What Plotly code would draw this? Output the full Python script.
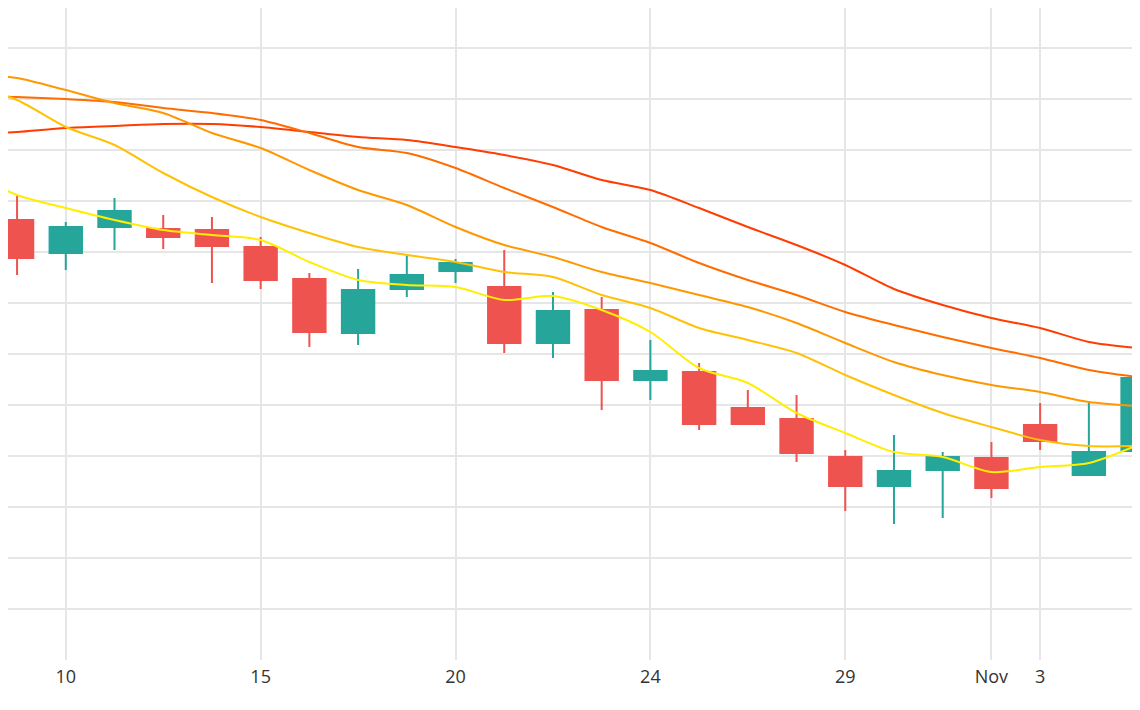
import plotly.graph_objects as go

# candle index positions (one per session), -1 is the session before the visible window
idx = list(range(24))
ma_idx = list(range(-1, 24))

opens = [440, 407, 433, 431, 430, 413, 381, 327, 371, 389, 373, 317,
         350, 280, 288, 252, 241, 203, 174, 190, 202, 235, 185, 209]
highs = [465, 438, 462, 445, 443, 423, 387, 391, 404, 401, 410, 368,
         363, 320, 297, 270, 265, 210, 225, 208, 218, 257, 259, 290]
lows = [385, 390, 410, 411, 377, 371, 313, 315, 363, 377, 307, 302,
        250, 260, 230, 236, 198, 149, 136, 142, 162, 210, 185, 197]
closes = [402, 433, 449, 423, 414, 380, 328, 370, 385, 397, 317, 349,
          280, 289, 236, 236, 207, 174, 189, 203, 172, 219, 208, 282]

# moving averages
ma_fast = [490, 465, 452, 440, 430, 425, 420, 398, 380, 375, 373, 360, 364,
           350, 328, 292, 277, 247, 227, 208, 203, 188, 193, 197, 215]
ma_10 = [575, 560, 533, 515, 487, 463, 443, 427, 413, 405, 398, 388, 383,
         365, 352, 332, 320, 307, 285, 265, 247, 233, 220, 214, 214]
ma_20 = [587, 582, 570, 557, 547, 527, 512, 490, 470, 455, 433, 415, 403,
         388, 377, 365, 353, 337, 317, 298, 285, 275, 268, 258, 254]
ma_30 = [564, 563, 561, 558, 552, 547, 540, 527, 513, 507, 492, 472, 453,
         433, 417, 397, 380, 365, 348, 335, 323, 312, 302, 290, 283]
ma_50 = [525, 528, 532, 534, 536, 536, 533, 528, 523, 520, 513, 505, 495,
         480, 470, 452, 433, 415, 395, 371, 355, 342, 332, 318, 312]

tick_pos = [1, 5, 9, 13, 17, 20, 21]
tick_text = ['10', '15', '20', '24', '29', 'Nov', '3']

fig = go.Figure()
fig.add_trace(go.Candlestick(
    x=idx, open=opens, high=highs, low=lows, close=closes,
    increasing=dict(line=dict(color='#26a69a', width=2), fillcolor='#26a69a'),
    decreasing=dict(line=dict(color='#ef5350', width=2), fillcolor='#ef5350'),
    whiskerwidth=0, showlegend=False,
))
for vals, col in [(ma_50, '#ff3d00'), (ma_30, '#ff6d00'), (ma_20, '#ff9800'),
                  (ma_10, '#ffc107'), (ma_fast, '#ffee00')]:
    fig.add_trace(go.Scatter(x=ma_idx, y=vals, mode='lines',
                             line=dict(color=col, width=2, shape='spline', smoothing=0.8),
                             showlegend=False, hoverinfo='skip'))

# page body has an 8px margin, so the window is shifted to compensate
fig.update_layout(
    width=1140, height=710,
    margin=dict(l=0, r=0, t=0, b=58, pad=0, autoexpand=False),
    plot_bgcolor='white', paper_bgcolor='white',
    font=dict(family='Open Sans', size=18, color='#333'),
    boxgap=0.05,
)
fig.update_xaxes(range=[-0.186, 23.214], tickvals=tick_pos, ticktext=tick_text,
                 showgrid=True, gridcolor='#e6e6e6', gridwidth=2,
                 rangeslider_visible=False, zeroline=False, ticks='',
                 ticklabelstandoff=4)
fig.update_yaxes(range=[0, 652], dtick=51, tick0=0, showticklabels=False,
                 showgrid=True, gridcolor='#e6e6e6', gridwidth=2, zeroline=False)

fig.write_html("out.html")
